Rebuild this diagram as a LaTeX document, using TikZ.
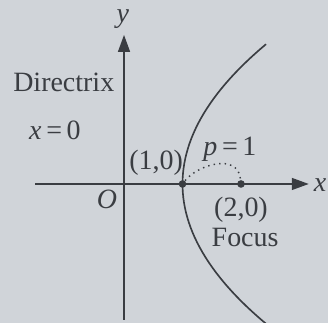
\documentclass[tikz,border=0pt]{standalone}
\usepackage{fontspec}
\setmainfont{Liberation Serif}
\usetikzlibrary{arrows.meta}
\definecolor{paper}{HTML}{D0D4D9}
\definecolor{ink}{HTML}{3A3D42}

\begin{document}
\begin{tikzpicture}[font=\fontsize{13.6}{15}\selectfont, text=ink]
	\tikzset{axis/.style={draw=ink, line width=1pt, -{Triangle[length=0.29cm, width=0.2cm]}},
		pt/.style={circle, fill=ink, inner sep=0pt, minimum size=0.13cm}}
	\fill[paper] (-2.12, -2.376) rectangle (3.487, 3.145);
	\clip (-2.12, -2.376) rectangle (3.487, 3.145);
	% axes
	\coordinate (xl) at (-1.52, 0);
	\coordinate (xr) at (3.16, 0);
	\coordinate (yb) at (0, -2.32);
	\coordinate (yt) at (0, 2.55);
	\draw[axis] (xl) -- (xr);
	\draw[axis] (yb) -- (yt);
	\node[inner sep=1pt] (xlab) at (3.35, -0.02) {\textit{x}};
	\node (ylab) at (-0.02, 2.82) {\textit{y}};
	\node (O) at (-0.29, -0.26) {\textit{O}};
	% parabola
	\draw[ink, line width=0.8pt] plot[domain=-2.6:2.39, samples=60] ({1+\x*\x/4}, \x);
	\node[pt] (V) at (1, 0) {};
	\node[pt] (F) at (2, 0) {};
	\draw[ink, line width=0.7pt, dotted] (V) .. controls (1.25, 0.32) and (1.95, 0.55) .. (F);
	% labels
	\node (Vlab) at (0.55, 0.36) {(1,0)};
	\node (plab) at (1.81, 0.6) {\textit{p}\,=\,1};
	\node (Flab) at (2.0, -0.44) {(2,0)};
	\node (focus) at (2.07, -0.92) {Focus};
	\node (dir) at (-1.03, 1.73) {Directrix};
	\node (dirx) at (-1.18, 0.92) {\textit{x}\,=\,0};
\end{tikzpicture}
\end{document}
